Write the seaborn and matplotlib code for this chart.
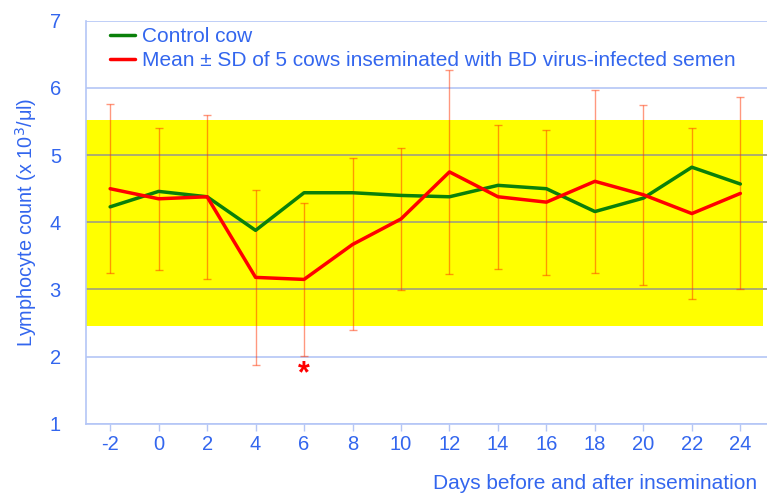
import numpy as np
import pandas as pd
import matplotlib
matplotlib.use("Agg")
import matplotlib.pyplot as plt
import seaborn as sns

# data
days = [-2, 0, 2, 4, 6, 8, 10, 12, 14, 16, 18, 20, 22, 24]
control = [4.23, 4.46, 4.38, 3.88, 4.44, 4.44, 4.40, 4.38, 4.55, 4.50, 4.16, 4.36, 4.82, 4.57]
infected_mean = [4.50, 4.35, 4.38, 3.18, 3.15, 3.67, 4.05, 4.75, 4.38, 4.30, 4.61, 4.41, 4.13, 4.43]
infected_sd = [1.26, 1.06, 1.22, 1.30, 1.14, 1.28, 1.06, 1.52, 1.07, 1.08, 1.36, 1.34, 1.27, 1.43]
normal_range = (2.45, 5.53)
star_day = 6

blue = "#3366ee"
frame = "#b4c6f6"

sns.set_theme(style="white")
plt.rcParams["font.family"] = ["Liberation Sans", "DejaVu Sans"]

df = pd.DataFrame({"day": days, "control": control, "mean": infected_mean, "sd": infected_sd})

fig = plt.figure(figsize=(7.67, 4.94), dpi=100)
ax = fig.add_axes([0.112, 0.142, 0.888, 0.816])

# grid + normal range band
for y in range(1, 8):
    ax.axhline(y, color=frame, lw=1.2, zorder=0)
ax.axhspan(*normal_range, xmin=0, xmax=0.994, color="#ffff00", lw=0, zorder=1)
for y in range(1, 8):
    if normal_range[0] < y < normal_range[1]:
        ax.axhline(y, color="#a0a080", lw=1.2, zorder=1.5)

# SD error bars
ax.errorbar(df["day"], df["mean"], yerr=df["sd"], fmt="none", ecolor="#ff3300",
            alpha=0.5, elinewidth=1, capsize=3, capthick=1, zorder=2)

sns.lineplot(data=df, x="day", y="control", color="#0a800a", lw=2.5, ax=ax,
             label="Control cow", zorder=3)
sns.lineplot(data=df, x="day", y="mean", color="#ff0000", lw=2.5, ax=ax,
             label="Mean ± SD of 5 cows inseminated with BD virus-infected semen", zorder=4)

# significance marker
star_i = days.index(star_day)
ax.text(star_day, infected_mean[star_i] - infected_sd[star_i] - 0.27, "*",
        color="red", fontsize=22, ha="center", va="center", fontweight="bold")

ax.set_xlim(-3, 25.1)
ax.set_ylim(1, 7)
ax.set_xticks(days)
ax.set_xticklabels([str(d) for d in days])
ax.set_yticks(range(1, 8))

ax.tick_params(axis="x", colors=frame, labelcolor=blue, labelsize=14.5,
               bottom=True, length=5, width=1, pad=3)
ax.tick_params(axis="y", labelcolor=blue, labelsize=14.5, left=False, pad=12)

for side in ["top", "right"]:
    ax.spines[side].set_visible(False)
for side in ["left", "bottom"]:
    ax.spines[side].set_color(frame)
    ax.spines[side].set_linewidth(1.2)

ax.set_xlabel("")
ax.set_ylabel("Lymphocyte count (x 10$^3$/μl)", color=blue, fontsize=14.3, labelpad=8)
fig.text(0.987, 0.003, "Days before and after insemination", color=blue,
         fontsize=15, ha="right", va="bottom")

leg = ax.legend(loc="upper left", frameon=False, fontsize=15, handlelength=1.2,
                handletextpad=0.35, borderaxespad=0.1, labelspacing=0.25,
                bbox_to_anchor=(0.02, 1.01))
for t in leg.get_texts():
    t.set_color(blue)

fig.savefig("out.png", dpi=100)
